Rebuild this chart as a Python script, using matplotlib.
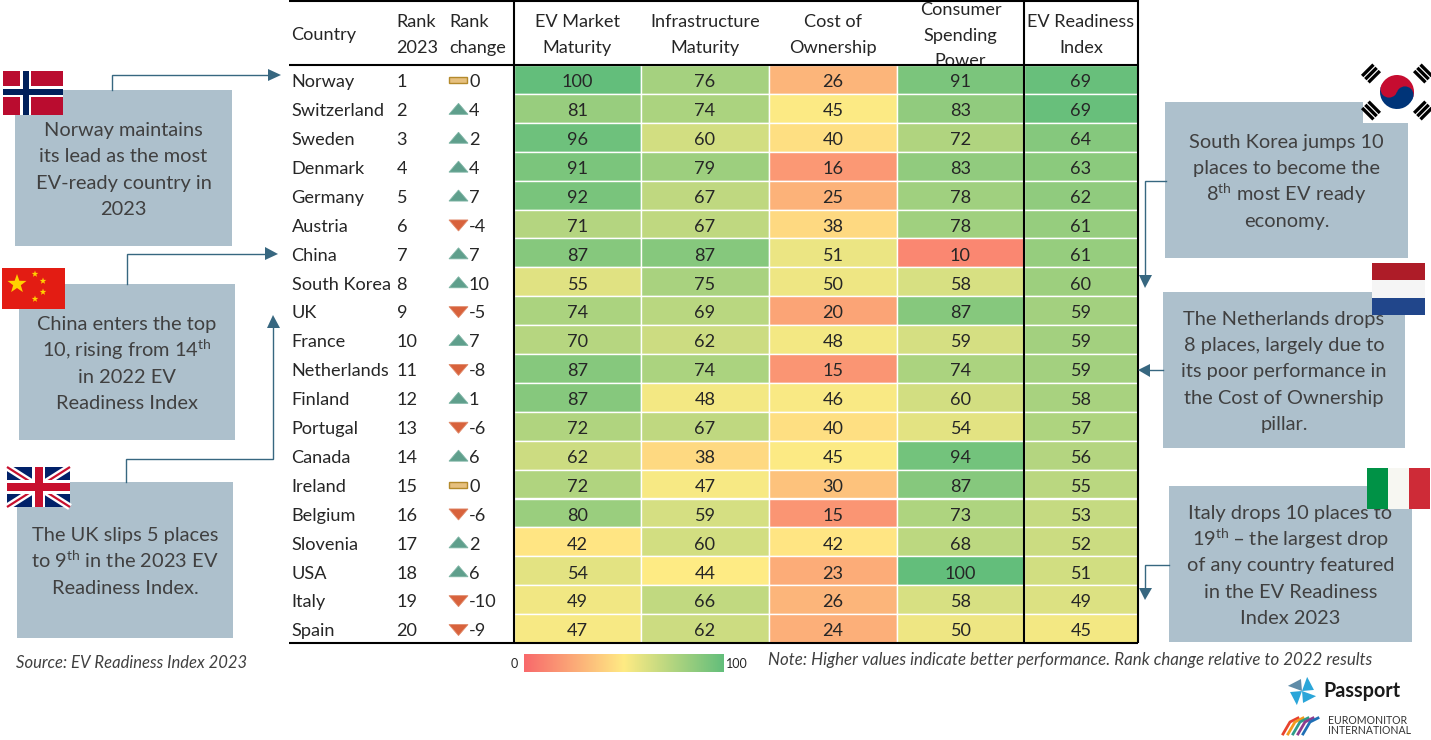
import numpy as np
import matplotlib
matplotlib.use("Agg")
import matplotlib.pyplot as plt
from matplotlib.patches import Rectangle, Polygon, Circle, Wedge
from matplotlib.colors import LinearSegmentedColormap, TwoSlopeNorm

plt.rcParams['font.family'] = ['Lato', 'DejaVu Sans']
plt.rcParams['mathtext.default'] = 'regular'

countries = ["Norway","Switzerland","Sweden","Denmark","Germany","Austria","China","South Korea","UK","France",
             "Netherlands","Finland","Portugal","Canada","Ireland","Belgium","Slovenia","USA","Italy","Spain"]
ranks = list(range(1, 21))
rank_change = [0,4,2,4,7,-4,7,10,-5,7,-8,1,-6,6,0,-6,2,6,-10,-9]
ev_market = [100,81,96,91,92,71,87,55,74,70,87,87,72,62,72,80,42,54,49,47]
infrastructure = [76,74,60,79,67,67,87,75,69,62,74,48,67,38,47,59,60,44,66,62]
cost = [26,45,40,16,25,38,51,50,20,48,15,46,40,45,30,15,42,23,26,24]
spending = [91,83,72,83,78,78,10,58,87,59,74,60,54,94,87,73,68,100,58,50]
index_vals = [69,69,64,63,62,61,61,60,59,59,59,58,57,56,55,53,52,51,49,45]
headers = ["EV Market\nMaturity","Infrastructure\nMaturity","Cost of\nOwnership","Consumer\nSpending\nPower","EV Readiness\nIndex"]

col_edges = [514, 641, 769, 897, 1024, 1138]
row_top, row_h = 65, 28.9
cmap = LinearSegmentedColormap.from_list("h", ["#F8696B", "#FFEB84", "#63BE7B"])
norm = TwoSlopeNorm(vmin=0, vcenter=44, vmax=100)
norm_idx = TwoSlopeNorm(vmin=20, vcenter=43, vmax=70)
TXT = "#262626"; BOX = "#ADC0CC"; BTXT = "#404040"; ARW = "#376780"

fig = plt.figure(figsize=(14.31, 7.40), dpi=100)
ax = fig.add_axes([0, 0, 1, 1])
FS = 13.1
LINE = 25.7

def stacked(x, first_base, text, fs, pitch, color, ha="left", zorder=3):
    for i, line in enumerate(text.split("\n")):
        ax.text(x, first_base + i*pitch, line, ha=ha, va="baseline", fontsize=fs, color=color, zorder=zorder)

columns = [ev_market, infrastructure, cost, spending, index_vals]
for c, vals in enumerate(columns):
    n = norm_idx if c == 4 else norm
    for r, v in enumerate(vals):
        y = row_top + r * row_h
        ax.add_patch(Rectangle((col_edges[c], y), col_edges[c+1]-col_edges[c], row_h,
                               fc=cmap(n(v)), ec="white", lw=1.0, zorder=1))
        ax.text((col_edges[c]+col_edges[c+1])/2, y+row_h/2+7.8, str(v), ha="center", va="baseline",
                fontsize=FS, color=TXT, zorder=3)

for r, (name, rk, ch) in enumerate(zip(countries, ranks, rank_change)):
    yc = row_top + (r+0.5)*row_h
    ax.text(291.5, yc+7.8, name, ha="left", va="baseline", fontsize=FS, color=TXT)
    ax.text(396.5, yc+7.8, str(rk), ha="left", va="baseline", fontsize=FS, color=TXT)
    ax.text(469, yc+7.8, str(ch), ha="left", va="baseline", fontsize=FS, color=TXT)
    if ch > 0:
        ax.add_patch(Polygon([[449,yc+6],[468,yc+6],[458.5,yc-5]], fc="#5F9F8C", ec="#7FB5A5", lw=0.6))
    elif ch < 0:
        ax.add_patch(Polygon([[449,yc-4],[468,yc-4],[458.5,yc+7]], fc="#D8623C", ec="#E08A6A", lw=0.6))
    else:
        ax.add_patch(Rectangle((449,yc-2),18,6, fc="#E6C07F", ec="#B48A2C", lw=1))

stacked(291.5, 40, "Country", FS, LINE, TXT)
stacked(396.5, 27.3, "Rank\n2023", FS, LINE, TXT)
stacked(449, 27.3, "Rank\nchange", FS, LINE, TXT)
for c, h in enumerate(headers):
    first = 15 if h.count("\n") == 2 else 27.3
    stacked((col_edges[c]+col_edges[c+1])/2, first, h, FS, LINE, TXT, ha="center")

for y in (0.5, 65, 643):
    ax.plot([289, 1138], [y, y], color="black", lw=1.5, zorder=4, solid_capstyle="butt")
for x in (514, 1024, 1138):
    ax.plot([x, x], [0, 643], color="black", lw=1.5, zorder=4, solid_capstyle="butt")

# callout boxes
boxes = [
 (15,90,232,246,"Norway maintains\nits lead as the most\nEV-ready country in\n2023"),
 (19,284,235,440,"China enters the top\n10, rising from 14$^{th}$\nin 2022 EV\nReadiness Index"),
 (17,482,233,638,"The UK slips 5 places\nto 9$^{th}$ in the 2023 EV\nReadiness Index."),
 (1165,102,1408,258,"South Korea jumps 10\nplaces to become the\n8$^{th}$ most EV ready\neconomy."),
 (1163,292,1405,448,"The Netherlands drops\n8 places, largely due to\nits poor performance in\nthe Cost of Ownership\npillar."),
 (1169,486,1412,642,"Italy drops 10 places to\n19$^{th}$ – the largest drop\nof any country featured\nin the EV Readiness\nIndex 2023"),
]
PITCH = 26.2
for x0,y0,x1,y1,t in boxes:
    ax.add_patch(Rectangle((x0,y0),x1-x0,y1-y0,fc=BOX,ec="none",zorder=1))
    nl = t.count("\n")
    first = (y0+y1)/2 + 7.5 - nl*PITCH/2
    stacked((x0+x1)/2, first, t, 14.4, PITCH, BTXT, ha="center", zorder=2)

def path(pts, head):
    xs,ys = zip(*pts)
    ax.plot(xs,ys,color=ARW,lw=1.0,zorder=5,solid_joinstyle="miter")
    ax.add_patch(Polygon(head,fc=ARW,ec="none",zorder=5))
path([(112,90),(112,75),(270,75)],[(268,69),(268,81),(281,75)])
path([(127,284),(127,254),(267,254)],[(265,247),(265,260),(278,254)])
path([(126,482),(126,459),(273,459),(273,326)],[(267,328),(280,328),(273,315)])
path([(1166,181),(1145,181),(1145,278)],[(1139,275),(1152,275),(1145,288)])
path([(1163,370),(1148,370)],[(1150,364),(1150,377),(1138,370)])
path([(1169,565),(1145,565),(1145,590)],[(1139,588),(1152,588),(1145,600)])

# flags
z = 6
def rect(x,y,w,h,c,zo=z): ax.add_patch(Rectangle((x,y),w,h,fc=c,ec="none",zorder=zo))
# Norway
rect(3,71,60,44,"#BA0C2F"); rect(20,71,11,44,"white"); rect(3,86,60,11,"white")
rect(22.5,71,6,44,"#00205B"); rect(3,88.5,60,6,"#00205B")
# China
rect(2,268,63,41,"#E31C13")
for sx,sy,s in [(17,284,10),(35,274,3.5),(43,281,3.5),(43,292,3.5),(35,299,3.5)]:
    ang = np.deg2rad(-90+np.arange(10)*36)
    rad = np.where(np.arange(10)%2==0,s,s*0.4)
    ax.add_patch(Polygon(np.c_[sx+rad*np.cos(ang),sy+rad*np.sin(ang)],fc="#FFD100",ec="none",zorder=z))
# UK
rect(7,467,63,40,"#012169")
ax.plot([7,70],[467,507],color="white",lw=5,zorder=z,solid_capstyle="butt")
ax.plot([7,70],[507,467],color="white",lw=5,zorder=z,solid_capstyle="butt")
ax.plot([7,70],[467,507],color="#C8102E",lw=1.6,zorder=z,solid_capstyle="butt")
ax.plot([7,70],[507,467],color="#C8102E",lw=1.6,zorder=z,solid_capstyle="butt")
rect(32,467,13,40,"white"); rect(7,480,63,14,"white")
rect(34.5,467,8,40,"#C8102E"); rect(7,483,63,8,"#C8102E")
# South Korea
rect(1363,63,68,60,"white")
kx,ky=1397,92
tilt=20
ct,st=np.cos(np.deg2rad(tilt)),np.sin(np.deg2rad(tilt))
ax.add_patch(Wedge((kx,ky),17,180+tilt,360+tilt,fc="#C60C30",ec="none",zorder=z))
ax.add_patch(Wedge((kx,ky),17,tilt,180+tilt,fc="#003478",ec="none",zorder=z))
ax.add_patch(Circle((kx-8.5*ct,ky-8.5*st),8.5,fc="#C60C30",ec="none",zorder=z+1))
ax.add_patch(Circle((kx+8.5*ct,ky+8.5*st),8.5,fc="#003478",ec="none",zorder=z+1))
for dx,dy in [(-1,-1),(1,-1),(-1,1),(1,1)]:
    cx,cy=kx+dx*26,ky+dy*18.5
    ux,uy=np.array([dx,dy])/np.sqrt(2)
    vx,vy=-uy,ux
    for off in (-4.5,0,4.5):
        ax.plot([cx+ux*off-vx*8,cx+ux*off+vx*8],[cy+uy*off-vy*8,cy+uy*off+vy*8],color="black",lw=2.4,zorder=z,solid_capstyle="butt")
# Netherlands
rect(1372,263,53,17,"#AE1C28"); rect(1372,280,53,18,"#F5F5F5"); rect(1372,298,53,17,"#21468B")
# Italy
rect(1367,468,21,41,"#009246"); rect(1388,468,21,41,"#F7F7F2"); rect(1409,468,21,41,"#CE2B37")

# footnotes
ax.text(16,663.5,"Source: EV Readiness Index 2023",ha="left",va="center",fontsize=12,style="italic",color=BTXT)
ax.text(768,660.5,"Note: Higher values indicate better performance. Rank change relative to 2022 results",
        ha="left",va="center",fontsize=12.2,style="italic",color=BTXT)
ax.imshow(np.linspace(0,1,256)[None,:],cmap=cmap,extent=(524,724,672,654),aspect="auto",zorder=2)
ax.text(514,664,"0",ha="center",va="center",fontsize=9,color=TXT)
ax.text(737,664,"100",ha="center",va="center",fontsize=9,color=TXT)

# logos
for ang,c in zip((20,110,200,290),("#2BA6D9","#2BA6D9","#5F8CA8","#2BA6D9")):
    a=np.deg2rad(ang); b=np.deg2rad(ang+65)
    ax.add_patch(Polygon([(1302,691),(1302+15*np.cos(a),691+15*np.sin(a)),(1302+12*np.cos(b),691+12*np.sin(b))],fc=c,ec="none",zorder=3))
ax.text(1323,691,"Passport",ha="left",va="center",fontsize=14.2,fontweight="bold",color="#1a1a1a")
for i,c in enumerate(("#E8432E","#F29A1F","#2E9C8A","#8E3C8E","#1F6FB5")):
    ax.plot([1283+i*5,1290+i*5,1298+i*5],[734,722,718],color=c,lw=2,zorder=3)
ax.text(1328,721,"EUROMONITOR",ha="left",va="center",fontsize=7.6,color="#333333")
ax.text(1328,730,"INTERNATIONAL",ha="left",va="center",fontsize=7.6,color="#333333")

ax.set_xlim(0,1431); ax.set_ylim(740,0); ax.axis("off")
fig.savefig("out.png",dpi=100)
